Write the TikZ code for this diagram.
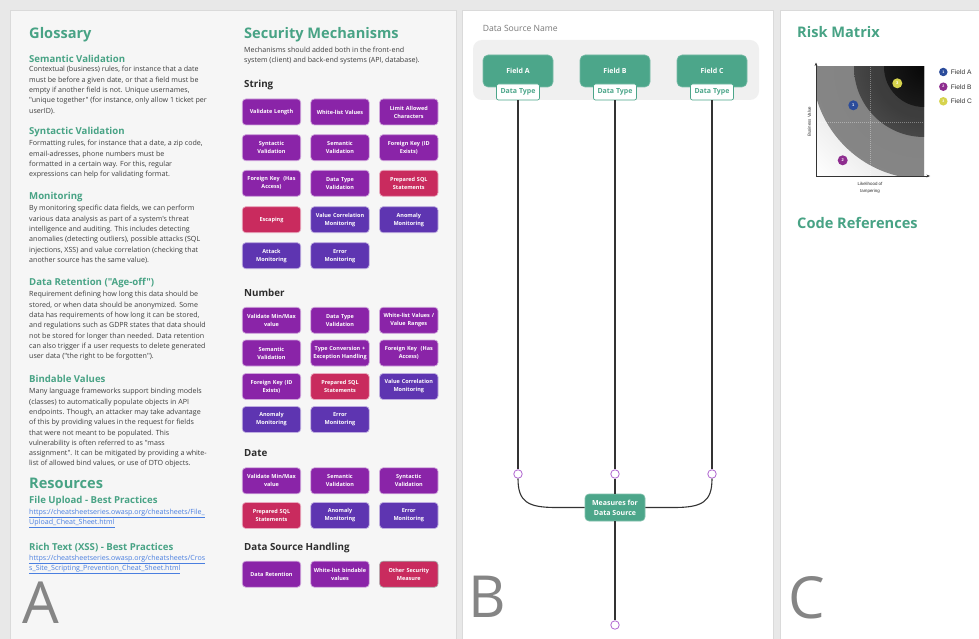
\documentclass[tikz,border=0pt]{standalone}
\usepackage{fontspec}
\setmainfont{Open Sans}[Ligatures=TeXOff]
\newfontfamily\chartfont{Liberation Sans}
\usetikzlibrary{arrows.meta,shadings}

\newcommand\fsz[2]{\fontsize{#1}{#2}\selectfont}

\definecolor{pagebg}{HTML}{E8E8E8}
\definecolor{panelA}{HTML}{F6F6F6}
\definecolor{panelline}{HTML}{DADADA}
\definecolor{headgreen}{HTML}{48A385}
\definecolor{fieldgreen}{HTML}{4CA68A}
\definecolor{bodytext}{HTML}{3C3C3C}
\definecolor{darktext}{HTML}{2E2E2E}
\definecolor{mpurple}{HTML}{8A24A8}
\definecolor{mindigo}{HTML}{5E35B1}
\definecolor{mcrimson}{HTML}{C92B5E}
\definecolor{linkblue}{HTML}{4A7FE0}
\definecolor{bigletter}{HTML}{858585}
\definecolor{conn}{HTML}{333333}
\definecolor{portpurple}{HTML}{B066D0}
\definecolor{containerbg}{HTML}{F0F0F0}
\definecolor{ptblue}{HTML}{2B4C9B}
\definecolor{ptpurple}{HTML}{8E2D8F}
\definecolor{ptyellow}{HTML}{D6D34D}

% radial fills of the risk matrix rings
\pgfdeclareradialshading{riskouter}{\pgfpoint{0bp}{0bp}}{rgb(0bp)=(0.50,0.50,0.50);rgb(31bp)=(0.53,0.53,0.53);rgb(50bp)=(0.70,0.70,0.70)}
\pgfdeclareradialshading{riskmid}{\pgfpoint{0bp}{0bp}}{rgb(0bp)=(0.22,0.22,0.22);rgb(18bp)=(0.24,0.24,0.24);rgb(50bp)=(0.42,0.42,0.42)}
\pgfdeclareradialshading{riskinner}{\pgfpoint{0bp}{0bp}}{rgb(0bp)=(0.03,0.03,0.03);rgb(50bp)=(0.17,0.17,0.17)}

\begin{document}
\begin{tikzpicture}[x=1pt,y=-1pt,
  head/.style={anchor=west, inner sep=0, text=headgreen, font=\bfseries\fsz{14.6}{17}},
  subhead/.style={anchor=west, inner sep=0, text=headgreen, font=\bfseries\fsz{9.6}{12}},
  sect/.style={anchor=west, inner sep=0, text=darktext, font=\bfseries\fsz{9.8}{12}},
  body/.style={anchor=north west, inner sep=0, align=left, text=bodytext, font=\fsz{7.1}{10.3}},
  link/.style={anchor=west, inner sep=0, text=linkblue, font=\fsz{7.1}{10}},
  letter/.style={anchor=base west, inner sep=0, text=bigletter, font=\fsz{58}{60}},
  mbox/.style={rounded corners=3.5, minimum width=58.4, minimum height=26, text width=56,
    align=center, inner sep=0, text=white, font=\bfseries\fsz{5.5}{8}, line width=0.7},
  pbox/.style={mbox, fill=mpurple, draw=mpurple!40},
  ibox/.style={mbox, fill=mindigo, draw=mindigo!40},
  rbox/.style={mbox, fill=mcrimson, draw=mcrimson!40},
  field/.style={rounded corners=5, fill=fieldgreen, draw=fieldgreen!75!white, line width=0.6,
    minimum width=70, minimum height=32, inner sep=0, text=white, font=\bfseries\fsz{7}{9}},
  dtype/.style={rounded corners=2, fill=white, draw=fieldgreen, line width=0.7,
    minimum width=43, minimum height=16, inner sep=0, text=fieldgreen, font=\bfseries\fsz{7}{9}},
  port/.style={circle, draw=portpurple, fill=white, line width=0.8, minimum size=8.5, inner sep=0},
  wire/.style={draw=conn, line width=1.1},
  pt/.style={circle, minimum size=10, inner sep=0, text=white, font=\chartfont\bfseries\fsz{4}{4}},
  lg/.style={circle, minimum size=8.5, inner sep=0, text=white, font=\chartfont\bfseries\fsz{3.6}{4}},
  lgtext/.style={anchor=west, inner sep=0, text=darktext, font=\chartfont\fsz{6.6}{8}},
  axlabel/.style={inner sep=0, text=darktext, font=\chartfont\fsz{4.4}{6.6}, align=center}
]
\useasboundingbox (0,0) rectangle (979,639);

% page and panels
\fill[pagebg] (0,0) rectangle (979,639);
\filldraw[fill=panelA, draw=panelline, line width=0.6] (10,10) rectangle (456,645);
\filldraw[fill=white, draw=panelline, line width=0.6] (462,10) rectangle (773,645);
\filldraw[fill=white, draw=panelline, line width=0.6] (780,10) rectangle (990,645);

% ---------------- Glossary ----------------
\node[head] (gloss) at (29,35) {Glossary};

\node[subhead] (hsem) at (29,58.5) {Semantic Validation};
\node[body] (tsem) at (29,66.2) {Contextual (business) rules, for instance that a date\\
must be before a given date, or that a field must be\\
empty if another field is not. Unique usernames,\\
"unique together" (for instance, only allow 1 ticket per\\
userID).};

\node[subhead] (hsyn) at (29,131.7) {Syntactic Validation};
\node[body] (tsyn) at (29,140.2) {Formatting rules, for instance that a date, a zip code,\\
email-adresses, phone numbers must be\\
formatted in a certain way. For this, regular\\
expressions can help for validating format.};

\node[subhead] (hmon) at (29,197) {Monitoring};
\node[body] (tmon) at (29,205.2) {By monitoring specific data fields, we can perform\\
various data analysis as part of a system's threat\\
intelligence and auditing. This includes detecting\\
anomalies (detecting outliers), possible attacks (SQL\\
injections, XSS) and value correlation (checking that\\
another source has the same value).};

\node[subhead] (hret) at (29,282.7) {Data Retention ("Age-off")};
\node[body] (tret) at (29,291.2) {Requirement defining how long this data should be\\
stored, or when data should be anonymized. Some\\
data has requirements of how long it can be stored,\\
and regulations such as GDPR states that data should\\
not be stored for longer than needed. Data retention\\
can also trigger if a user requests to delete generated\\
user data ("the right to be forgotten").};

\node[subhead] (hbind) at (29,379.3) {Bindable Values};
\node[body] (tbind) at (29,388.2) {Many language frameworks support binding models\\
(classes) to automatically populate objects in API\\
endpoints. Though, an attacker may take advantage\\
of this by providing values in the request for fields\\
that were not meant to be populated. This\\
vulnerability is often referred to as "mass\\
assignment". It can be mitigated by providing a white-\\
list of allowed bind values, or use of DTO objects.};

\node[head] (res) at (29,483.3) {Resources};
\node[subhead] (hfile) at (29,501.3) {File Upload - Best Practices};
\node[link] (lfile1) at (29,513.3) {\underline{https://cheatsheetseries.owasp.org/cheatsheets/File\_}};
\node[link] (lfile2) at (29,523.3) {\underline{Upload\_Cheat\_Sheet.html}};
\node[subhead] (hxss) at (29,547.3) {Rich Text (XSS) - Best Practices};
\node[link] (lxss1) at (29,559.3) {\underline{https://cheatsheetseries.owasp.org/cheatsheets/Cros}};
\node[link] (lxss2) at (29,569.3) {\underline{s\_Site\_Scripting\_Prevention\_Cheat\_Sheet.html}};

\node[letter] (la) at (22,623) {A};

% ---------------- Security Mechanisms ----------------
\node[head] (secm) at (244,35) {Security Mechanisms};
\node[body] (secsub) at (244,46.8) {Mechanisms should added both in the front-end\\
system (client) and back-end systems (API, database).};

\node[sect] (hstr) at (244,84.7) {String};
\node[pbox] (s11) at (271.5,112) {Validate Length};
\node[pbox] (s12) at (340,112) {White-list Values};
\node[pbox] (s13) at (408.8,112) {Limit Allowed\\Characters};
\node[pbox] (s21) at (271.5,147.7) {Syntactic\\Validation};
\node[pbox] (s22) at (340,147.7) {Semantic\\Validation};
\node[pbox] (s23) at (408.8,147.7) {Foreign Key (ID\\Exists)};
\node[pbox] (s31) at (271.5,183.3) {Foreign Key~ (Has\\Access)};
\node[pbox] (s32) at (340,183.3) {Data Type\\Validation};
\node[rbox] (s33) at (408.8,183.3) {Prepared SQL\\Statements};
\node[rbox] (s41) at (271.5,219.7) {Escaping};
\node[ibox] (s42) at (340,219.7) {Value Correlation\\Monitoring};
\node[ibox] (s43) at (408.8,219.7) {Anomaly\\Monitoring};
\node[ibox] (s51) at (271.5,255.7) {Attack\\Monitoring};
\node[ibox] (s52) at (340,255.7) {Error\\Monitoring};

\node[sect] (hnum) at (244,293.3) {Number};
\node[pbox] (n11) at (271.5,320.3) {Validate Min/Max\\value};
\node[pbox] (n12) at (340,320.3) {Data Type\\Validation};
\node[pbox] (n13) at (408.8,320.3) {White-list Values /\\Value Ranges};
\node[pbox] (n21) at (271.5,353) {Semantic\\Validation};
\node[pbox] (n22) at (340,353) {Type Conversion +\\Exception Handling};
\node[pbox] (n23) at (408.8,353) {Foreign Key~ (Has\\Access)};
\node[pbox] (n31) at (271.5,386.5) {Foreign Key (ID\\Exists)};
\node[rbox] (n32) at (340,386.5) {Prepared SQL\\Statements};
\node[ibox] (n33) at (408.8,386.5) {Value Correlation\\Monitoring};
\node[ibox] (n41) at (271.5,419.5) {Anomaly\\Monitoring};
\node[ibox] (n42) at (340,419.5) {Error\\Monitoring};

\node[sect] (hdate) at (244,452.7) {Date};
\node[pbox] (d11) at (271.5,480.8) {Validate Min/Max\\value};
\node[pbox] (d12) at (340,480.8) {Semantic\\Validation};
\node[pbox] (d13) at (408.8,480.8) {Syntactic\\Validation};
\node[rbox] (d21) at (271.5,515.5) {Prepared SQL\\Statements};
\node[ibox] (d22) at (340,515.5) {Anomaly\\Monitoring};
\node[ibox] (d23) at (408.8,515.5) {Error\\Monitoring};

\node[sect] (hdsh) at (244,547.7) {Data Source Handling};
\node[pbox] (h11) at (271.5,574.2) {Data Retention};
\node[pbox] (h12) at (340,574.2) {White-list bindable\\values};
\node[rbox, draw=gray!70] (h13) at (408.8,574.2) {Other Security\\Measure};

% ---------------- Data source panel ----------------
\node[anchor=west, inner sep=0, text=gray!95!black, font=\fsz{8.6}{10}] (dsname) at (482.7,28.3) {Data Source Name};
\fill[containerbg, rounded corners=9] (473,40) rectangle (759,100);

\node[field] (fa) at (518,71) {Field A};
\node[field] (fb) at (615,71) {Field B};
\node[field] (fc) at (712,71) {Field C};
\node[dtype] (ta) at (518,92) {Data Type};
\node[dtype] (tb) at (615,92) {Data Type};
\node[dtype] (tc) at (712,92) {Data Type};

\node[port] (pa) at (518,474) {};
\node[port] (pb) at (615,474) {};
\node[port] (pc) at (712,474) {};
\node[port] (pd) at (615,625) {};

\node[rounded corners=4, fill=fieldgreen, draw=fieldgreen!70!white, line width=0.6,
  minimum width=60, minimum height=27, inner sep=0, align=center, text=white,
  font=\bfseries\fsz{7}{10}] (ms) at (615,507.5) {Measures for\\Data Source};

\coordinate (lbend) at (556,507.5);
\coordinate (rbend) at (674,507.5);

\draw[wire] (ta) -- (pa);
\draw[wire] (tb) -- (pb);
\draw[wire] (tc) -- (pc);
\draw[wire] (pa) .. controls (518,502) and (528,507.5) .. (lbend) -- (ms);
\draw[wire] (pc) .. controls (712,502) and (702,507.5) .. (rbend) -- (ms);
\draw[wire] (pb) -- (ms);
\draw[wire] (ms) -- (pd);

\node[letter] (lb) at (468,617) {B};

% ---------------- Risk matrix panel ----------------
\node[head] (risk) at (797,32.3) {Risk Matrix};

\begin{scope}
  \clip (816,67) rectangle (924,176);
  \shade[upper left=gray!22, upper right=gray!45, lower left=white, lower right=gray!22]
    (816,67) rectangle (924,176);
  \shade[shading=riskouter] (924,67) circle (112);
  \shade[shading=riskmid] (924,67) circle (70);
  \shade[shading=riskinner] (924,67) circle (40);
  \draw[white, opacity=0.35, line width=0.4, dash pattern=on 1pt off 1pt] (870,67) -- (870,176);
  \draw[white, opacity=0.35, line width=0.4, dash pattern=on 1pt off 1pt] (816,122) -- (924,122);
\end{scope}

\coordinate (origin) at (816,176);
\coordinate (ytip) at (816,62.5);
\coordinate (xtip) at (930,176);
\draw[conn, line width=0.6, -{Stealth[length=3.5pt,width=2.8pt]}] (origin) -- (ytip);
\draw[conn, line width=0.6, -{Stealth[length=3.5pt,width=2.8pt]}] (origin) -- (xtip);

\node[axlabel, rotate=90] (ylab) at (809.3,121.7) {Business Value};
\node[axlabel] (xlab) at (870,187.7) {Likelihood of\\tampering};

\node[pt, fill=ptblue] (p1) at (853.3,105.3) {1};
\node[pt, fill=ptpurple] (p2) at (842.7,160.3) {2};
\node[pt, fill=ptyellow] (p3) at (897.3,83.3) {3};

\node[lg, fill=ptblue] (g1) at (943.3,72) {1};
\node[lg, fill=ptpurple] (g2) at (943.3,86.7) {2};
\node[lg, fill=ptyellow] (g3) at (943.3,101.3) {3};
\node[lgtext] (gt1) at (950.7,72) {Field A};
\node[lgtext] (gt2) at (950.7,86.7) {Field B};
\node[lgtext] (gt3) at (950.7,101.3) {Field C};

\node[head] (coderef) at (797,222.7) {Code References};

\node[letter] (lc) at (788,618) {C};
\end{tikzpicture}
\end{document}
